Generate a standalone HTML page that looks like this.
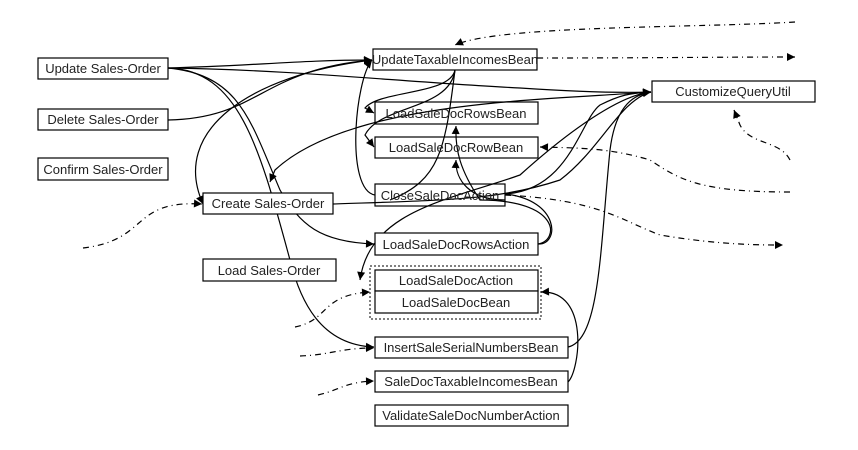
<!DOCTYPE html>
<html><head><meta charset="utf-8"><style>
body{margin:0;background:#fff}
svg{display:block;font-family:"Liberation Sans",sans-serif}
rect.n{fill:#fff;stroke:#000;stroke-width:1.2}
text{font-size:13px;fill:#222;text-anchor:middle}
path{fill:none;stroke:#000;stroke-width:1.2}
path.d{stroke-dasharray:6,4,1,4}
polygon.h{fill:#000;stroke:none}
</style></head><body>
<svg width="858" height="450" viewBox="0 0 858 450">
<defs><marker id="a" viewBox="0 0 10 10" refX="10" refY="5" markerWidth="11" markerHeight="8" orient="auto" markerUnits="userSpaceOnUse"><polygon class="h" points="0,0 10,5 0,10"/></marker></defs>
<!-- edges -->
<path d="M168,68 C250,66 300,60 372,60" marker-end="url(#a)"/>
<path d="M168,68 C300,70 400,82 520,88 C580,92 620,93 651,92" marker-end="url(#a)"/>
<path d="M168,68 C240,70 260,150 290,260 C300,300 320,345 374,347" marker-end="url(#a)"/>
<path d="M168,68 C240,75 250,120 280,190 C300,225 320,242 374,244" marker-end="url(#a)"/>
<path d="M168,120 C260,118 260,70 372,60" marker-end="url(#a)"/>
<path d="M372,60 C250,75 170,130 203,204" marker-end="url(#a)"/>
<path d="M333,204 C450,200 500,200 560,180 C600,150 620,100 651,92"/>
<path d="M651,92 C550,100 350,100 275,170 L270,182" marker-end="url(#a)"/>
<path d="M455,70 C450,95 380,90 365,108 L374,113" marker-end="url(#a)"/>
<path d="M455,70 C450,110 380,105 365,135 L374,147" marker-end="url(#a)"/>
<path d="M455,70 C445,150 440,180 390,200"/>
<path d="M375,195 C345,190 355,80 372,60" marker-end="url(#a)"/>
<path d="M505,194 C570,190 580,120 600,105 C620,95 630,93 651,92" marker-end="url(#a)"/>
<path d="M505,194 C560,200 560,245 538,244"/>
<path d="M538,244 C560,240 560,200 480,200 C460,170 455,150 456,126" marker-end="url(#a)"/>
<path d="M505,200 C470,200 455,180 456,160" marker-end="url(#a)"/>
<path d="M651,92 C620,95 570,130 520,175 C450,200 370,210 360,280" marker-end="url(#a)"/>
<path d="M568,347 C600,340 600,250 610,150 C615,110 630,95 651,92" marker-end="url(#a)"/>
<path d="M568,382 C580,370 590,290 541,292" marker-end="url(#a)"/>
<!-- dashed -->
<path class="d" d="M795,22 C700,28 500,25 455,45" marker-end="url(#a)"/>
<path class="d" d="M537,58 C650,58 720,57 795,57" marker-end="url(#a)"/>
<path class="d" d="M790,160 C780,140 750,145 740,125 L734,110" marker-end="url(#a)"/>
<path class="d" d="M790,192 C700,192 680,180 650,160 C610,148 580,148 540,147" marker-end="url(#a)"/>
<path class="d" d="M505,195 C600,200 620,220 660,235 C720,245 760,245 783,245" marker-end="url(#a)"/>
<path class="d" d="M83,248 C150,240 130,200 202,204" marker-end="url(#a)"/>
<path class="d" d="M295,327 C330,320 320,295 370,292" marker-end="url(#a)"/>
<path class="d" d="M300,356 C330,355 340,348 374,348" marker-end="url(#a)"/>
<path class="d" d="M318,395 C340,390 345,382 374,381" marker-end="url(#a)"/>
<!-- nodes -->
<rect class="n" x="38" y="58" width="130" height="21"/><text x="103" y="73">Update Sales-Order</text>
<rect class="n" x="38" y="109" width="130" height="21"/><text x="103" y="124">Delete Sales-Order</text>
<rect class="n" x="38" y="158" width="130" height="22"/><text x="103" y="174">Confirm Sales-Order</text>
<rect class="n" x="203" y="193" width="130" height="21"/><text x="268" y="208">Create Sales-Order</text>
<rect class="n" x="203" y="259" width="133" height="22"/><text x="269" y="275">Load Sales-Order</text>
<rect class="n" x="373" y="49" width="164" height="21" style="fill:none"/><text x="455" y="64">UpdateTaxableIncomesBean</text>
<rect class="n" x="652" y="81" width="163" height="21"/><text x="733" y="96">CustomizeQueryUtil</text>
<rect class="n" x="375" y="102" width="163" height="22" style="fill:none"/><text x="456" y="118">LoadSaleDocRowsBean</text>
<rect class="n" x="375" y="137" width="163" height="21" style="fill:none"/><text x="456" y="152">LoadSaleDocRowBean</text>
<rect class="n" x="375" y="184" width="130" height="22" style="fill:none"/><text x="440" y="200">CloseSaleDocAction</text>
<rect class="n" x="375" y="233" width="163" height="22"/><text x="456" y="249">LoadSaleDocRowsAction</text>
<rect x="370" y="266" width="171" height="53" fill="none" stroke="#000" stroke-dasharray="2,2"/>
<rect class="n" x="375" y="270" width="163" height="21"/><text x="456" y="285">LoadSaleDocAction</text>
<rect class="n" x="375" y="291" width="163" height="22"/><text x="456" y="307">LoadSaleDocBean</text>
<rect class="n" x="375" y="337" width="193" height="21"/><text x="471" y="352">InsertSaleSerialNumbersBean</text>
<rect class="n" x="375" y="371" width="193" height="21"/><text x="471" y="386">SaleDocTaxableIncomesBean</text>
<rect class="n" x="375" y="405" width="193" height="21"/><text x="471" y="420">ValidateSaleDocNumberAction</text>
</svg>
</body></html>
